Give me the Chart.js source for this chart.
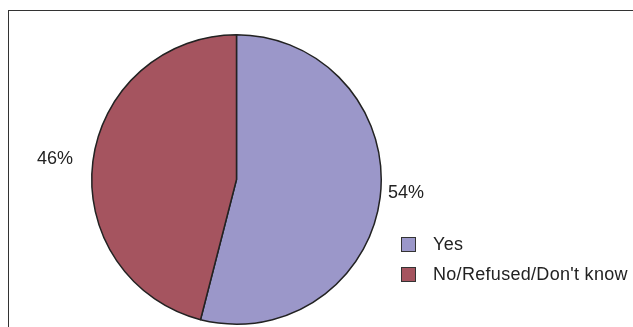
<!DOCTYPE html>
<html>
<head>
    <title>Survey Response Share</title>
    <script src="https://cdn.jsdelivr.net/npm/chart.js"></script>
    <style>
        body { margin: 0; background: #fff; }
        #frame {
            position: absolute;
            left: 8px;
            top: 10px;
            width: 700px;
            height: 400px;
            border: 1px solid #333;
        }
        #pieChart { position: absolute; left: 0; top: 0; }
    </style>
</head>
<body>
    <div id="frame"></div>
    <canvas id="pieChart" width="633" height="327"></canvas>

    <script>
        // Answers and their shares (%)
        const answers = ['Yes', 'No/Refused/Don\'t know'];
        const shares = [54, 46];
        const sliceColors = ['#9b97c9', '#a5545f'];

        const font = '18px "Liberation Sans", Arial, sans-serif';

        // Percent labels next to each slice, placed along the slice's middle angle
        const sliceLabels = {
            id: 'sliceLabels',
            afterDatasetsDraw(chart) {
                const ctx = chart.ctx;
                const arcs = chart.getDatasetMeta(0).data;
                ctx.save();
                ctx.font = font;
                ctx.fillStyle = '#222';
                ctx.textBaseline = 'middle';
                arcs.forEach((arc, i) => {
                    const mid = (arc.startAngle + arc.endAngle) / 2;
                    const cos = Math.cos(mid);
                    const right = cos >= 0;
                    const dist = arc.outerRadius + (right ? 8 : 20);
                    const x = arc.x + cos * dist;
                    const y = arc.y + Math.sin(mid) * dist + (right ? -6 : 0);
                    ctx.textAlign = right ? 'left' : 'right';
                    ctx.fillText(shares[i] + '%', x, y);
                });
                ctx.restore();
            }
        };

        // Legend box to the right of the pie
        const sideLegend = {
            id: 'sideLegend',
            afterDraw(chart) {
                const ctx = chart.ctx;
                const left = 401, top = 237, box = 15, gap = 30;
                ctx.save();
                ctx.font = font;
                ctx.letterSpacing = '0.3px';
                ctx.textAlign = 'left';
                ctx.textBaseline = 'middle';
                answers.forEach((name, i) => {
                    const y = top + i * gap;
                    ctx.fillStyle = sliceColors[i];
                    ctx.fillRect(left, y, box, box);
                    ctx.strokeStyle = '#333';
                    ctx.lineWidth = 1;
                    ctx.strokeRect(left + 0.5, y + 0.5, box - 1, box - 1);
                    ctx.fillStyle = '#222';
                    ctx.fillText(name, left + 32, y + box / 2 + 1);
                });
                ctx.restore();
            }
        };

        const ctx = document.getElementById('pieChart').getContext('2d');
        new Chart(ctx, {
            type: 'pie',
            data: {
                labels: answers,
                datasets: [{
                    data: shares,
                    backgroundColor: sliceColors,
                    borderColor: '#222',
                    borderWidth: 1.5
                }]
            },
            options: {
                responsive: false,
                animation: false,
                layout: {
                    padding: { left: 91, top: 34, right: 251, bottom: 2 }
                },
                plugins: {
                    legend: { display: false },
                    tooltip: { enabled: false }
                }
            },
            plugins: [sliceLabels, sideLegend]
        });
    </script>
</body>
</html>
